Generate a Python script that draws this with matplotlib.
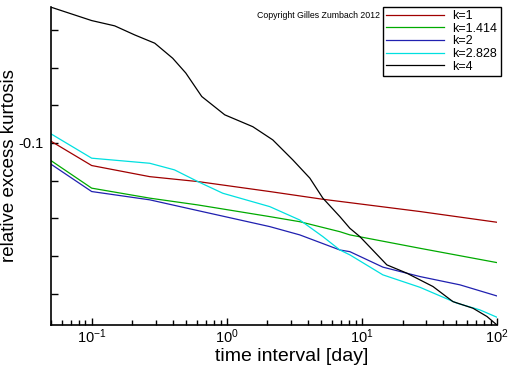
import matplotlib
matplotlib.use("Agg")
import matplotlib.pyplot as plt
from matplotlib.ticker import FixedLocator, FixedFormatter, LogLocator, NullFormatter

plt.rcParams['font.family'] = ['Liberation Sans', 'DejaVu Sans']

labels = ["k=1", "k=1.414", "k=2", "k=2.828", "k=4"]
colors = ["#a00000", "#00aa00", "#2020b0", "#00e0e0", "#000000"]

x_k1 = [0.05, 0.1, 0.269, 0.61, 2.08, 5.14, 8.15, 26.9, 100]
y_k1 = [-0.0991, -0.1120, -0.1179, -0.1205, -0.1258, -0.1299, -0.1317, -0.1364, -0.1421]

x_k1414 = [0.05, 0.1, 0.269, 0.61, 2.08, 3.47, 6.87, 8.15, 26.9, 100]
y_k1414 = [-0.1094, -0.1240, -0.1293, -0.1329, -0.1391, -0.1418, -0.1471, -0.1488, -0.1559, -0.1635]

x_k2 = [0.05, 0.1, 0.269, 0.61, 2.08, 3.47, 6.87, 8.15, 14.3, 26.9, 53.2, 100]
y_k2 = [-0.1113, -0.1258, -0.1302, -0.1359, -0.1444, -0.1488, -0.1568, -0.1577, -0.1659, -0.1709, -0.1753, -0.1812]

x_k2828 = [0.05, 0.1, 0.269, 0.41, 0.61, 0.934, 2.08, 3.47, 5.14, 6.87, 8.15, 14.3, 26.9, 50.5, 74.8, 100]
y_k2828 = [-0.0952, -0.1081, -0.1108, -0.1143, -0.1205, -0.1267, -0.1338, -0.1409, -0.1497, -0.1568, -0.1594, -0.1700, -0.1766, -0.1850, -0.1886, -0.1925]

x_k4 = [0.05, 0.1, 0.148, 0.208, 0.293, 0.398, 0.497, 0.653, 0.966, 1.558, 2.19, 3.08, 4.12, 5.14, 6.87, 8.15, 9.66, 15.3, 21.5, 33.6, 47.2, 66.4, 84.3, 100]
y_k4 = [-0.0280, -0.0351, -0.0379, -0.0427, -0.0471, -0.0551, -0.0629, -0.0754, -0.0851, -0.0914, -0.0984, -0.1090, -0.1187, -0.1293, -0.1391, -0.1453, -0.1497, -0.1647, -0.1691, -0.1762, -0.1842, -0.1877, -0.1921, -0.1966]

xs = [x_k1, x_k1414, x_k2, x_k2828, x_k4]
ys = [y_k1, y_k1414, y_k2, y_k2828, y_k4]

y_ticks = [-0.18, -0.16, -0.14, -0.12, -0.10, -0.08, -0.06, -0.04]
y_ticklabels = ["", "", "", "", "-0.1", "", "", ""]

fig = plt.figure(figsize=(5.12, 3.66), dpi=100)
ax = fig.add_axes([51/512, 1-325/366, (497-51)/512, (325-7)/366])

for x, y, c, l in zip(xs, ys, colors, labels):
    ax.plot(x, y, color=c, lw=0.9, label=l)

ax.set_xscale('log')
ax.set_xlim(0.05, 100)
ax.set_ylim(-0.1966, -0.0279)
ax.yaxis.set_major_locator(FixedLocator(y_ticks))
ax.yaxis.set_major_formatter(FixedFormatter(y_ticklabels))
ax.xaxis.set_major_locator(LogLocator(base=10, numticks=10))
ax.xaxis.set_minor_locator(LogLocator(base=10, subs=range(2, 10), numticks=20))
ax.xaxis.set_minor_formatter(NullFormatter())

for s in ['top', 'right']:
    ax.spines[s].set_visible(False)
for s in ['left', 'bottom']:
    ax.spines[s].set_linewidth(1.2)

ax.tick_params(axis='both', which='major', direction='in', length=5, width=1, labelsize=10.5)
ax.tick_params(axis='x', which='major', pad=2)
ax.tick_params(axis='y', which='major', pad=5)
ax.tick_params(axis='x', which='minor', direction='in', length=3.5, width=1)

ax.set_xlabel("time interval [day]", fontsize=14, va='baseline')
ax.xaxis.set_label_coords(0.54, -0.1145)
ax.set_ylabel("relative excess kurtosis", fontsize=13.5)
ax.yaxis.set_label_coords(-0.074, 0.5)

fig.text(257/512, 1-16/366, "Copyright Gilles Zumbach 2012", fontsize=6.3, va='center', ha='left')

leg = fig.legend(loc='upper left', bbox_to_anchor=(383/512, 1-7/366), fontsize=9,
                 frameon=True, fancybox=False, edgecolor='black', framealpha=1,
                 handlelength=4.6, handletextpad=0.7, labelspacing=0.05,
                 borderpad=0.25, borderaxespad=0)
leg.get_frame().set_linewidth(1.0)

fig.savefig("out.png", dpi=100)
